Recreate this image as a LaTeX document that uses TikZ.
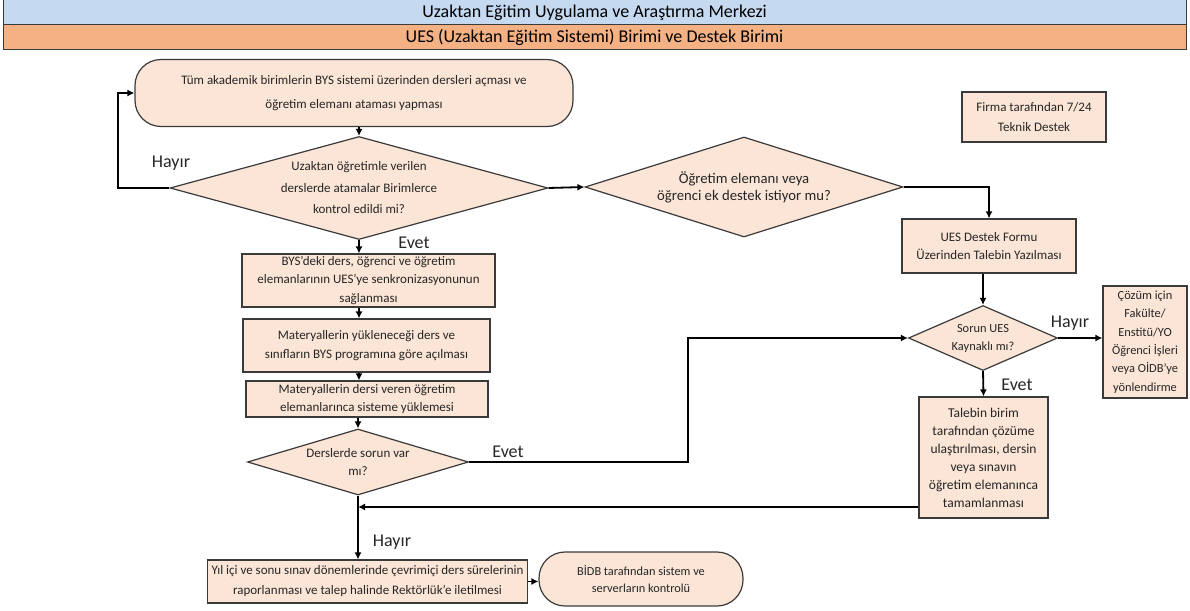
\documentclass[tikz,border=0pt]{standalone}
\usepackage{fontspec}
\setmainfont{Carlito}
\usetikzlibrary{shapes.geometric, arrows.meta, calc}
\definecolor{headblue}{HTML}{C5D9F1}
\definecolor{headorange}{HTML}{F4B183}
\definecolor{boxfill}{HTML}{FBE5D6}
\definecolor{boxline}{HTML}{3A3A3A}
\definecolor{textgray}{HTML}{262626}
\tikzset{
    my-font/.style 2 args={
        font=\fontsize{#1}{#2}\selectfont
    },
    my-box/.style={
        rectangle, draw=boxline, fill=boxfill, line width=1.2pt, align=center,
        inner sep=1pt, text=textgray, my-font={13}{18}
    },
    my-decision/.style={
        diamond, draw=boxline, fill=boxfill, line width=1.2pt, align=center,
        inner sep=0pt, text=textgray, my-font={13}{18}
    },
    my-terminal/.style={
        my-box, rounded corners=26pt
    },
    my-header/.style={
        rectangle, draw=boxline, line width=1pt, minimum width=1183pt,
        minimum height=25pt, my-font={18}{18}
    },
    my-label/.style={
        my-font={18}{18}, text=textgray
    },
    my-arrow/.style={
        -{Latex[length=7pt, width=7pt]}, line width=1.8pt
    },
}

\begin{document}
\begin{tikzpicture}[x=1pt, y=-1pt]

        \useasboundingbox (0,0) rectangle (1190,610);

        % HEADERS
        \node[my-header, fill=headblue]   (HEAD1) at (594.5,12.5) {Uzaktan Eğitim Uygulama ve Araştırma Merkezi};
        \node[my-header, fill=headorange] (HEAD2) at (594.5,37.5) {UES (Uzaktan Eğitim Sistemi) Birimi ve Destek Birimi};

        % LEFT COLUMN
        \node[my-terminal, my-font={13}{24}, minimum width=438pt, minimum height=67pt] (START) at (354,93)
            {Tüm akademik birimlerin BYS sistemi üzerinden dersleri açması ve\\öğretim elemanı ataması yapması};
        \node[my-decision, my-font={13}{21.5}, minimum width=378pt, minimum height=103pt, aspect=3.67] (DEC1) at (359,188)
            {Uzaktan öğretimle verilen\\derslerde atamalar Birimlerce\\kontrol edildi mi?};
        \node[my-box, my-font={13}{18.5}, minimum width=253pt, minimum height=53pt] (BOX1) at (368.5,280.5)
            {BYS’deki ders, öğrenci ve öğretim\\elemanlarının UES’ye senkronizasyonunun\\sağlanması};
        \node[my-box, my-font={13}{19}, minimum width=247pt, minimum height=53pt] (BOX2) at (366.5,345.5)
            {Materyallerin yükleneceği ders ve\\sınıfların BYS programına göre açılması};
        \node[my-box, minimum width=242pt, minimum height=36pt] (BOX3) at (367,399)
            {Materyallerin dersi veren öğretim\\elemanlarınca sisteme yüklemesi};
        \node[my-decision, minimum width=221pt, minimum height=66pt, aspect=3.35] (DEC4) at (358,462)
            {Derslerde sorun var\\mı?};
        \node[my-box, my-font={13}{20}, minimum width=320pt, minimum height=43pt] (REPORT) at (367.5,581.5)
            {Yıl içi ve sonu sınav dönemlerinde çevrimiçi ders sürelerinin\\raporlanması ve talep halinde Rektörlük’e iletilmesi};
        \node[my-terminal, my-font={12.3}{17}, minimum width=204pt, minimum height=54pt] (BIDB) at (641,579)
            {BİDB tarafından sistem ve\\serverların kontrolü};

        % RIGHT COLUMN
        \node[my-decision, my-font={14.7}{17}, minimum width=318pt, minimum height=100pt, aspect=3.18] (DEC2) at (744,187)
            {Öğretim elemanı veya\\öğrenci ek destek istiyor mu?};
        \node[my-box, my-font={13}{20}, minimum width=144pt, minimum height=50pt] (FIRMA) at (1034,117)
            {Firma tarafından 7/24\\Teknik Destek};
        \node[my-box, my-font={13}{18.5}, minimum width=174pt, minimum height=54pt] (FORM) at (989,246)
            {UES Destek Formu\\Üzerinden Talebin Yazılması};
        \node[my-decision, my-font={12.4}{18}, minimum width=149pt, minimum height=65pt, aspect=2.3] (DEC3) at (983,338)
            {Sorun UES\\Kaynaklı mı?};
        \node[my-box, my-font={12.4}{18.3}, minimum width=84pt, minimum height=112pt] (REDIRECT) at (1145,342)
            {Çözüm için\\Fakülte/\\Enstitü/YO\\Öğrenci İşleri\\veya OİDB’ye\\yönlendirme};
        \node[my-box, my-font={13.5}{18}, minimum width=129pt, minimum height=121pt] (SOLVE) at (983.5,457.5)
            {Talebin birim\\tarafından çözüme\\ulaştırılması, dersin\\veya sınavın\\öğretim elemanınca\\tamamlanması};

        % LABELS
        \node[my-label] (NO1)  at (171,163)  {Hayır};
        \node[my-label] (YES1) at (414,243)  {Evet};
        \node[my-label] (YES4) at (508,452)  {Evet};
        \node[my-label] (NO4)  at (392,542)  {Hayır};
        \node[my-label] (NO3)  at (1070,323) {Hayır};
        \node[my-label] (YES3) at (1017,385) {Evet};

        % CONNECTOR POINTS
        \coordinate (LOOP)   at (118,188);
        \coordinate (TURN)   at (688,462);
        \coordinate (BACK)   at (358,507);

        % LEFT CONNECTIONS
        \draw[my-arrow] (DEC1.west) -- (LOOP) |- (START.west);
        \draw[my-arrow] (DEC1.north |- START.south) -- (DEC1.north);
        \draw[my-arrow] (DEC1.south) -- (DEC1.south |- BOX1.north);
        \draw[my-arrow] (DEC1.south |- BOX1.south) -- (DEC1.south |- BOX2.north);
        \draw[my-arrow] (DEC1.south |- BOX2.south) -- (DEC1.south |- BOX3.north);
        \draw[my-arrow] (DEC4.north |- BOX3.south) -- (DEC4.north);
        \draw[my-arrow] (DEC4.south) -- (DEC4.south |- REPORT.north);
        \draw[my-arrow] (REPORT.east) -- (REPORT.east -| BIDB.west);

        % RIGHT CONNECTIONS
        \draw[my-arrow] (DEC1.east) -- (DEC2.west);
        \draw[my-arrow] (DEC2.east) -| (FORM.north);
        \draw[my-arrow] (DEC3.north |- FORM.south) -- (DEC3.north);
        \draw[my-arrow] (DEC3.east) -- (DEC3.east -| REDIRECT.west);
        \draw[my-arrow] (DEC3.south) -- (SOLVE.north);
        \draw[my-arrow] (DEC4.east) -- (TURN) |- (DEC3.west);
        \draw[my-arrow] (BACK -| SOLVE.west) -- (BACK);

    \end{tikzpicture}
\end{document}
